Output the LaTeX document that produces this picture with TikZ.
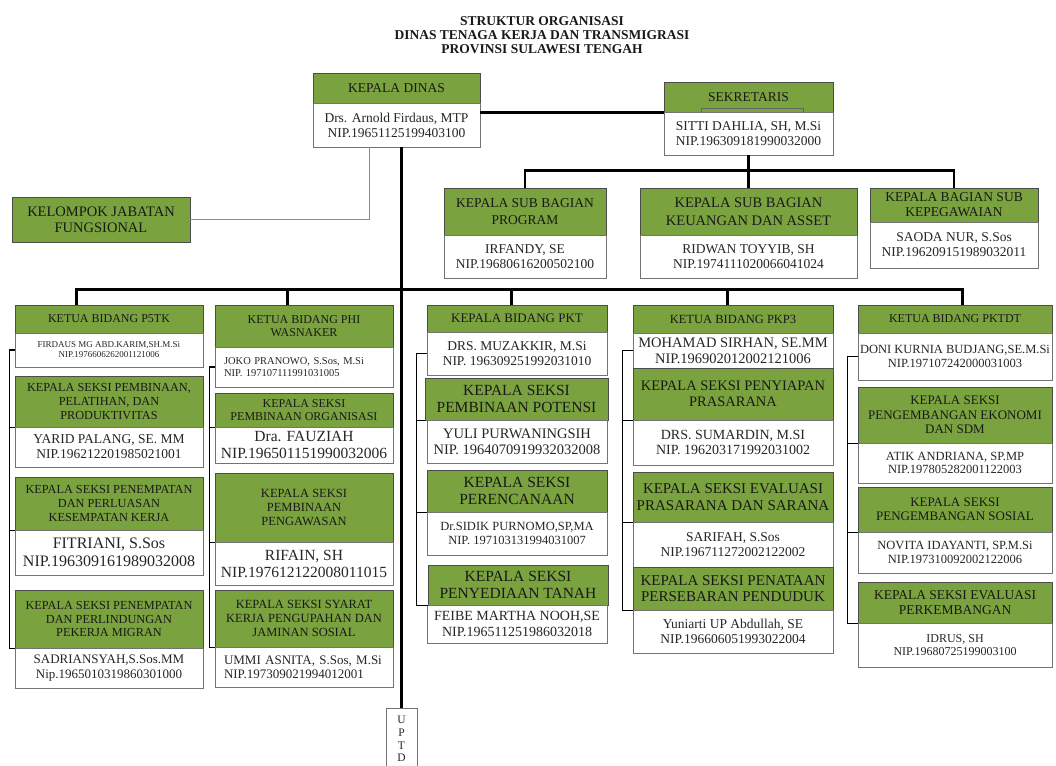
\documentclass[tikz,border=0pt]{standalone}
\usepackage{fontspec}
\setmainfont{Liberation Serif}
\definecolor{gr}{RGB}{122,162,62}
\tikzset{
  gbox/.style={draw=black!70, fill=gr, line width=0.9pt, inner sep=1pt, align=center, text=black!90},
  wbox/.style={draw=black!55, fill=white, line width=0.9pt, inner sep=1pt, align=center, text=black!85},
  ln/.style={draw=black, line width=2.2pt},
  brk/.style={draw=black, line width=1.5pt},
  thinln/.style={draw=black!45, line width=1.2pt},
}
% [extra]{style}{name}{x1}{y1}{x2}{y2}{size}{text}
\newcommand{\bx}[9][]{\node[#2, minimum width={#6-#4}, minimum height={#7-#5}, font={\linespread{1.1}\fontsize{#8}{#8}\selectfont}, #1] (#3) at ({(#4+#6)/2},{(#5+#7)/2}) {#9};}
\newcommand{\brkt}[6]{%
  \path (#1.west) ++(#2,0) coordinate (#6);
  \draw[brk] (#1.west) -- (#6) -- (#6 |- #5.south west) -- (#5.south west);
  \draw[brk] (#6 |- #3.south west) -- (#3.south west);
  \draw[brk] (#6 |- #4.south west) -- (#4.south west);}
\begin{document}
\begin{tikzpicture}[x=1pt,y=-1pt]
\useasboundingbox[fill=white] (0,0) rectangle (1056,765);

\node[font={\fontsize{13.5}{14}\selectfont\bfseries}, align=center, text=black!90] (title) at (542,35) {STRUKTUR ORGANISASI\\DINAS TENAGA KERJA DAN TRANSMIGRASI\\PROVINSI SULAWESI TENGAH};

% Kepala Dinas
\bx{gbox}{kdh}{313}{73}{480}{103}{13.5}{KEPALA DINAS}
\bx{wbox}{kdb}{313}{103}{480}{147}{13.5}{Drs. Arnold Firdaus, MTP\\NIP.19651125199403100}

% Sekretaris
\bx{gbox}{sekh}{664}{82}{833}{112}{13.5}{SEKRETARIS}
\bx{wbox}{sekb}{664}{112}{833}{155}{13.5}{SITTI DAHLIA, SH, M.Si\\NIP.196309181990032000}
\draw[black!60, line width=0.7pt] ([xshift=38pt]sekh.south west) -- ++(0,-4) -| ([xshift=-30pt]sekh.south east);

% Sub bagian
\bx[font={\linespread{1.3}\fontsize{13.5}{13.5}\selectfont}]{gbox}{sb1h}{444}{188}{606}{235}{13.5}{KEPALA SUB BAGIAN\\PROGRAM}
\bx{wbox}{sb1b}{444}{235}{606}{278}{13.5}{IRFANDY, SE\\NIP.19680616200502100}
\bx[font={\linespread{1.25}\fontsize{14.5}{14.5}\selectfont}]{gbox}{sb2h}{640}{188}{857}{235}{14.5}{KEPALA SUB BAGIAN\\KEUANGAN DAN ASSET}
\bx{wbox}{sb2b}{640}{235}{857}{278}{13.5}{RIDWAN TOYYIB, SH\\NIP.1974111020066041024}
\bx{gbox}{sb3h}{870}{188}{1038}{222}{13.5}{KEPALA BAGIAN SUB\\KEPEGAWAIAN}
\bx{wbox}{sb3b}{870}{222}{1038}{268}{13.5}{SAODA NUR, S.Sos\\NIP.196209151989032011}

% Kelompok
\bx{gbox}{kel}{12}{197}{190}{242}{14.5}{KELOMPOK JABATAN\\FUNGSIONAL}

% UPTD
\bx{wbox}{uptd}{386}{708}{417}{770}{11.5}{U\\P\\T\\D}

% Column 1
\bx{gbox}{c1h}{15}{305}{203}{333}{12}{KETUA BIDANG P5TK}
\bx{wbox}{c1a}{15}{333}{203}{367}{9}{FIRDAUS MG ABD.KARIM,SH.M.Si\\NIP.1976606262001121006}
\bx{gbox}{c1s1h}{15}{376}{203}{427}{12.3}{KEPALA SEKSI PEMBINAAN,\\PELATIHAN, DAN\\PRODUKTIVITAS}
\bx{wbox}{c1s1b}{15}{427}{203}{467}{13.5}{YARID PALANG, SE. MM\\NIP.196212201985021001}
\bx{gbox}{c1s2h}{15}{477}{203}{530}{12.3}{KEPALA SEKSI PENEMPATAN\\DAN PERLUASAN\\KESEMPATAN KERJA}
\bx{wbox}{c1s2b}{15}{530}{203}{575}{16}{FITRIANI, S.Sos\\NIP.196309161989032008}
\bx{gbox}{c1s3h}{15}{590}{203}{648}{12.3}{KEPALA SEKSI PENEMPATAN\\DAN PERLINDUNGAN\\PEKERJA MIGRAN}
\bx{wbox}{c1s3b}{15}{648}{203}{688}{13}{SADRIANSYAH,S.Sos.MM\\Nip.1965010319860301000}

% Column 2
\bx{gbox}{c2h}{215}{305}{393}{347}{12}{KETUA BIDANG PHI\\WASNAKER}
\bx[align=left, text width=160pt]{wbox}{c2a}{215}{347}{393}{387}{10.5}{JOKO PRANOWO, S.Sos, M.Si\\NIP. 197107111991031005}
\bx{gbox}{c2s1h}{215}{393}{393}{427}{12}{KEPALA SEKSI\\PEMBINAAN ORGANISASI}
\bx{wbox}{c2s1b}{215}{427}{393}{463}{15.5}{Dra. FAUZIAH\\NIP.196501151990032006}
\bx{gbox}{c2s2h}{215}{473}{393}{542}{12.5}{KEPALA SEKSI\\PEMBINAAN\\PENGAWASAN}
\bx{wbox}{c2s2b}{215}{542}{393}{585}{15.5}{RIFAIN, SH\\NIP.197612122008011015}
\bx{gbox}{c2s3h}{215}{590}{393}{647}{12.5}{KEPALA SEKSI SYARAT\\KERJA PENGUPAHAN DAN\\JAMINAN SOSIAL}
\bx[align=left, text width=160pt]{wbox}{c2s3b}{215}{647}{393}{687}{13}{UMMI ASNITA, S.Sos, M.Si\\NIP.197309021994012001}

% Column 3
\bx{gbox}{c3h}{427}{305}{607}{332}{13}{KEPALA BIDANG PKT}
\bx{wbox}{c3a}{427}{332}{607}{375}{13.5}{DRS. MUZAKKIR, M.Si\\NIP. 196309251992031010}
\bx{gbox}{c3s1h}{425}{378}{608}{420}{15.5}{KEPALA SEKSI\\PEMBINAAN POTENSI}
\bx{wbox}{c3s1b}{427}{420}{607}{463}{14.5}{YULI PURWANINGSIH\\NIP. 1964070919932032008}
\bx{gbox}{c3s2h}{427}{470}{607}{512}{15.5}{KEPALA SEKSI\\PERENCANAAN}
\bx{wbox}{c3s2b}{427}{512}{607}{555}{12.5}{Dr.SIDIK PURNOMO,SP,MA\\NIP. 197103131994031007}
\bx{gbox}{c3s3h}{428}{565}{608}{605}{15.5}{KEPALA SEKSI\\PENYEDIAAN TANAH}
\bx{wbox}{c3s3b}{427}{605}{607}{643}{14}{FEIBE MARTHA NOOH,SE\\NIP.196511251986032018}

% Column 4
\bx{gbox}{c4h}{633}{305}{833}{333}{12.5}{KETUA BIDANG PKP3}
\bx{wbox}{c4a}{633}{333}{833}{368}{14.5}{MOHAMAD SIRHAN, SE.MM\\NIP.196902012002121006}
\bx{gbox}{c4s1h}{633}{368}{833}{420}{14.5}{KEPALA SEKSI PENYIAPAN\\PRASARANA}
\bx{wbox}{c4s1b}{633}{420}{833}{465}{14}{DRS. SUMARDIN, M.SI\\NIP. 196203171992031002}
\bx{gbox}{c4s2h}{633}{472}{833}{522}{15}{KEPALA SEKSI EVALUASI\\PRASARANA DAN SARANA}
\bx{wbox}{c4s2b}{633}{522}{833}{567}{13.5}{SARIFAH, S.Sos\\NIP.196711272002122002}
\bx{gbox}{c4s3h}{633}{567}{833}{610}{15}{KEPALA SEKSI PENATAAN\\PERSEBARAN PENDUDUK}
\bx{wbox}{c4s3b}{633}{610}{833}{653}{13.5}{Yuniarti UP Abdullah, SE\\NIP.196606051993022004}

% Column 5
\bx{gbox}{c5h}{858}{305}{1052}{333}{12}{KETUA BIDANG PKTDT}
\bx{wbox}{c5a}{858}{333}{1052}{380}{12.5}{DONI KURNIA BUDJANG,SE.M.Si\\NIP.197107242000031003}
\bx{gbox}{c5s1h}{858}{387}{1052}{443}{13}{KEPALA SEKSI\\PENGEMBANGAN EKONOMI\\DAN SDM}
\bx{wbox}{c5s1b}{858}{443}{1052}{483}{12.5}{ATIK ANDRIANA, SP.MP\\NIP.197805282001122003}
\bx{gbox}{c5s2h}{858}{487}{1052}{532}{13}{KEPALA SEKSI\\PENGEMBANGAN SOSIAL}
\bx{wbox}{c5s2b}{858}{532}{1052}{573}{12.5}{NOVITA IDAYANTI, SP.M.Si\\NIP.197310092002122006}
\bx{gbox}{c5s3h}{858}{582}{1052}{623}{13.5}{KEPALA SEKSI EVALUASI\\PERKEMBANGAN}
\bx{wbox}{c5s3b}{858}{623}{1052}{667}{12}{IDRUS, SH\\NIP.19680725199003100}

% Connectors
\draw[ln] (kdb.east |- sekh.south west) -- (sekh.south west);
\draw[thinln] ([xshift=57pt]kdb.south west) |- (kel.east);
\draw[ln] (kdb.south -| uptd.north) -- (uptd.north);
\draw[ln] (sekb.south) -- (sb2h.north);
\draw[ln] (sb1h.north) -- ++(0,-17) -| (sb3h.north);
\draw[ln] ([xshift=62pt]c1h.north west) -- ++(0,-15) -| ([xshift=105pt]c5h.north west);
\draw[ln] ([xshift=73pt]c2h.north west) -- ++(0,-15);
\draw[ln] ([xshift=85pt]c3h.north west) -- ++(0,-15);
\draw[ln] ([xshift=95pt]c4h.north west) -- ++(0,-15);

% Brackets
\brkt{c1a}{-5}{c1s1h}{c1s2h}{c1s3h}{b1}
\brkt{c2a}{-5}{c2s1h}{c2s2h}{c2s3h}{b2}
\brkt{c3a}{-10}{c3s1h}{c3s2h}{c3s3h}{b3}
\brkt{c4a}{-10}{c4s1h}{c4s2h}{c4s3h}{b4}
\brkt{c5a}{-10}{c5s1h}{c5s2h}{c5s3h}{b5}
\end{tikzpicture}
\end{document}
